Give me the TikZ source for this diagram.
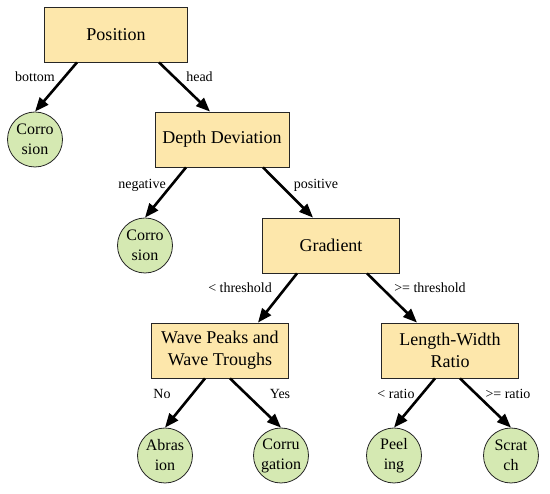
\documentclass[tikz,border=0pt]{standalone}
\usepackage{fontspec}
\setmainfont{Liberation Serif}
\usetikzlibrary{arrows.meta, positioning, shapes}
\definecolor{testfill}{RGB}{253,231,171}
\definecolor{leaffill}{RGB}{213,233,178}

\tikzset{
	test/.style={draw=black!85, line width=0.8pt, fill=testfill, minimum width=137pt, minimum height=55pt, align=center, font=\rmfamily\fontsize{18}{22}\selectfont},
	leaf/.style={circle, draw=black!85, line width=0.8pt, fill=leaffill, minimum size=55pt, inner sep=0pt, align=center, font=\rmfamily\fontsize{16}{20}\selectfont},
	arr/.style={line width=2.6pt, -{Triangle[length=14pt,width=11pt]}},
	lbl/.style={anchor=base, inner sep=0pt, font=\rmfamily\fontsize{14}{16}\selectfont}
}

\begin{document}
\begin{tikzpicture}[x=1pt, y=-1pt]
	\useasboundingbox (0,0) rectangle (550,494);
	
	% 测试节点
	\node[test, minimum width=143pt] (pos) at (116,34.5) {Position};
	\node[test, minimum width=134pt] (dep) at (222,139.5) {Depth Deviation};
	\node[test] (gra) at (331,245.5) {Gradient};
	\node[test] (wav) at (220,350.5) {Wave Peaks and\\Wave Troughs};
	\node[test] (len) at (450,350.5) {Length-Width\\Ratio};
	
	% 叶子节点
	\node[leaf] (cor1) at (35,139.5) {Corro\\sion};
	\node[leaf] (cor2) at (145,245.5) {Corro\\sion};
	\node[leaf] (abr) at (165,455.5) {Abras\\ion};
	\node[leaf] (cog) at (281,455.5) {Corru\\gation};
	\node[leaf] (pel) at (394,455.5) {Peel\\ing};
	\node[leaf] (scr) at (511,455.5) {Scrat\\ch};
	
	% 分支
	\draw[arr] ([xshift=-39pt]pos.south) -- (cor1.north);
	\draw[arr] ([xshift=43pt]pos.south) -- ([xshift=-12pt]dep.north);
	\draw[arr] ([xshift=-36pt]dep.south) -- (cor2.north);
	\draw[arr] ([xshift=41pt]dep.south) -- ([xshift=-18pt]gra.north);
	\draw[arr] ([xshift=-34pt]gra.south) -- ([xshift=38pt]wav.north);
	\draw[arr] ([xshift=36pt]gra.south) -- ([xshift=-33pt]len.north);
	\draw[arr] ([xshift=-15pt]wav.south) -- (abr.north);
	\draw[arr] ([xshift=10pt]wav.south) -- (cog.north);
	\draw[arr] ([xshift=-15pt]len.south) -- (pel.north);
	\draw[arr] ([xshift=10pt]len.south) -- (scr.north);
	
	% 分支标签
	\node[lbl] (lbot) at (35,82) {bottom};
	\node[lbl] (lhead) at (199.5,82) {head};
	\node[lbl] (lneg) at (142,189) {negative};
	\node[lbl] (lposi) at (316,189) {positive};
	\node[lbl] (llt) at (240,293) {< threshold};
	\node[lbl] (lge) at (430,293) {>= threshold};
	\node[lbl] (lno) at (162,399) {No};
	\node[lbl] (lyes) at (280,399) {Yes};
	\node[lbl] (lltr) at (396,399) {< ratio};
	\node[lbl] (lger) at (508,399) {>= ratio};
\end{tikzpicture}
\end{document}
